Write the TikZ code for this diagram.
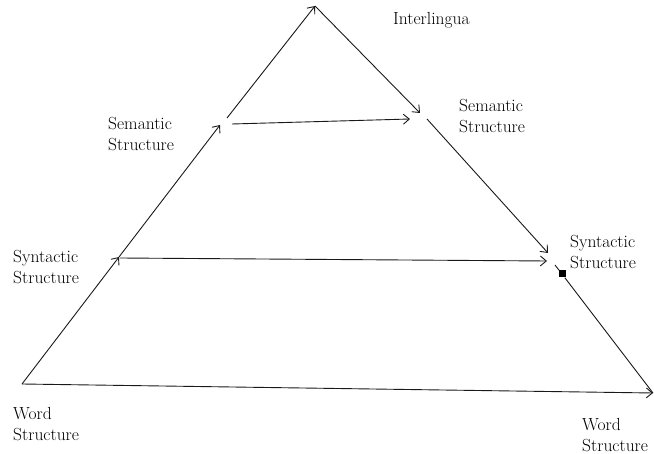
\documentclass[tikz,border=0pt]{standalone}
\usetikzlibrary{arrows.meta}
\begin{document}
\begin{tikzpicture}[x=1pt,y=-1pt,
  edge/.style={draw=black!90, line width=0.9pt},
  arr/.style={edge, -{Straight Barb[length=6pt,width=10pt,line width=0.9pt]}},
  lbl/.style={anchor=base west, inner sep=0pt, align=left, font=\fontsize{17.5}{21}\selectfont},
  sq/.style={fill=black, inner sep=0pt, minimum size=7pt}]
\useasboundingbox (0,0) rectangle (654,454);
% points
\coordinate (W1) at (22,384);
\coordinate (Y1) at (119,257);
\coordinate (S1a) at (220,125);
\coordinate (S1b) at (227,118);
\coordinate (A) at (315,6);
\coordinate (S2a) at (420,113);
\coordinate (S2b) at (427,119);
\coordinate (Y2a) at (548,253);
\coordinate (Y2b) at (555,265);
\node[sq] (Q) at (562,274) {};
\coordinate (W2) at (653,393);
\coordinate (H1s) at (232,124);
\coordinate (H1e) at (410,119);
\coordinate (H2s) at (120,258);
\coordinate (H2e) at (547,261);
% connectors
\draw[arr] (W1) -- (Y1);
\draw[arr] (Y1) -- (S1a);
\draw[arr] (S1b) -- (A);
\draw[arr] (A) -- (S2a);
\draw[arr] (S2b) -- (Y2a);
\draw[edge] (Y2b) -- (Q);
\draw[edge] (Q) -- (W2);
\draw[arr] (W1) -- (W2);
\draw[arr] (H1s) -- (H1e);
\draw[arr] (H2s) -- (H2e);
% labels
\node[lbl] (inter) at (393,25) {Interlingua};
\node[lbl] (semL) at (108,151) {Semantic\\Structure};
\node[lbl] (semR) at (459,133) {Semantic\\Structure};
\node[lbl] (synL) at (13,284) {Syntactic\\Structure};
\node[lbl] (synR) at (570,269) {Syntactic\\Structure};
\node[lbl] (wordL) at (13,441) {Word\\Structure};
\node[lbl] (wordR) at (582,452) {Word\\Structure};
\end{tikzpicture}
\end{document}
